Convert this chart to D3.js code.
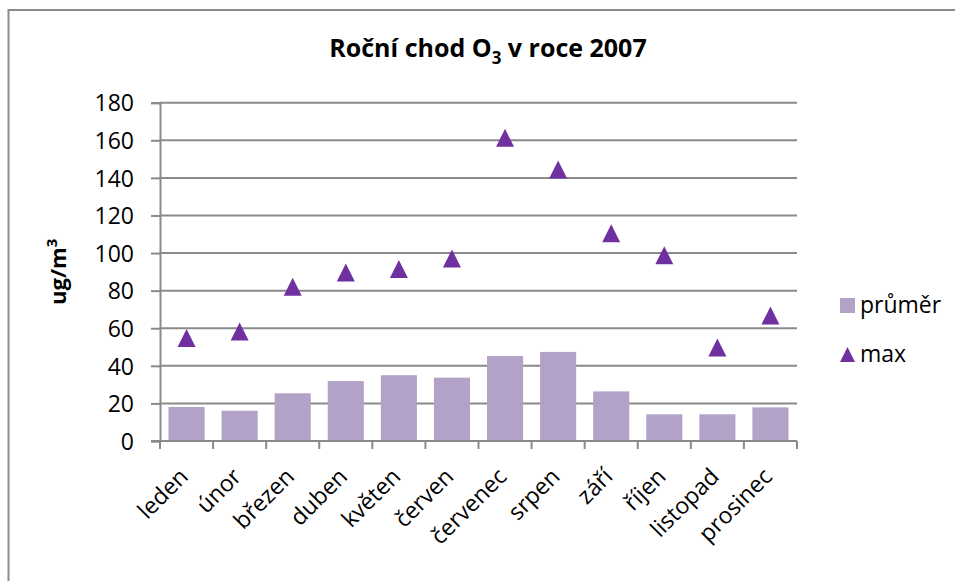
<!DOCTYPE html>
<html>
<head>
<meta charset="utf-8">
<script src="https://cdn.jsdelivr.net/npm/d3@7"></script>
<style>
  body { margin: 0; background: #fff; }
  svg text { font-family: "Open Sans", "Noto Sans", sans-serif; fill: #000; }
</style>
</head>
<body>
<div id="chart"></div>
<script>
// Roční chod O3 v roce 2007 — bars = monthly average, triangles = monthly max
const months = ["leden", "únor", "březen", "duben", "květen", "červen",
  "červenec", "srpen", "září", "říjen", "listopad", "prosinec"];
const prumer = [18.1, 16.1, 25.4, 31.9, 35.0, 33.7, 45.2, 47.4, 26.4, 14.2, 14.2, 17.9];
const maxVals = [54.8, 58.3, 82.1, 89.6, 91.5, 97.1, 161.3, 144.5, 110.6, 98.8, 49.8, 66.8];
const yTicks = [0, 20, 40, 60, 80, 100, 120, 140, 160, 180];

const W = 955, H = 581;
const plot = { left: 160, right: 797, top: 102.7, bottom: 441 };
const barColor = "#b3a2c7";
const markColor = "#7030a0";
const gridColor = "#8a8a8a";

const svg = d3.select("#chart").append("svg")
  .attr("width", W).attr("height", H);

// outer chart border (cut off on right/bottom like the screenshot)
svg.append("rect")
  .attr("x", 8.5).attr("y", 10)
  .attr("width", W + 10).attr("height", H + 10)
  .attr("fill", "none").attr("stroke", "#8c8c8c").attr("stroke-width", 2);

const y = d3.scaleLinear().domain([0, 180]).range([plot.bottom, plot.top]);
const xOuter = d3.scaleBand().domain(months).range([plot.left, plot.right]);
const gap = 0.32;
const x = d3.scaleBand().domain(months).range([plot.left, plot.right])
  .paddingInner(gap).paddingOuter(gap / 2);

// gridlines + left ticks
const yAxis = d3.axisLeft(y).tickValues(yTicks).tickSize(9).tickPadding(17);
const yAxisG = svg.append("g").attr("transform", `translate(${plot.left},0)`).call(yAxis);
yAxisG.select(".domain").attr("stroke", gridColor).attr("stroke-width", 2);
yAxisG.selectAll(".tick line").attr("stroke", gridColor).attr("stroke-width", 2);
yAxisG.selectAll(".tick text")
  .style("font-size", "23px").attr("fill", "#000").attr("dy", "0.36em");

svg.append("g").selectAll("line").data(yTicks.filter(d => d > 0)).join("line")
  .attr("x1", plot.left).attr("x2", plot.right)
  .attr("y1", d => y(d)).attr("y2", d => y(d))
  .attr("stroke", gridColor).attr("stroke-width", 2);

// bars
svg.append("g").selectAll("rect").data(months).join("rect")
  .attr("x", (d) => x(d))
  .attr("width", x.bandwidth())
  .attr("y", (d, i) => y(prumer[i]))
  .attr("height", (d, i) => y(0) - y(prumer[i]))
  .attr("fill", barColor);

// x axis line and category-boundary ticks
svg.append("line")
  .attr("x1", plot.left - 9).attr("x2", plot.right)
  .attr("y1", y(0)).attr("y2", y(0))
  .attr("stroke", gridColor).attr("stroke-width", 2);
const bounds = months.map(m => xOuter(m)).concat([plot.right]);
svg.append("g").selectAll("line").data(bounds).join("line")
  .attr("x1", d => d).attr("x2", d => d)
  .attr("y1", y(0)).attr("y2", y(0) + 8)
  .attr("stroke", gridColor).attr("stroke-width", 2);

// x labels rotated -45
svg.append("g").selectAll("text").data(months).join("text")
  .attr("transform", d => `translate(${xOuter(d) + xOuter.bandwidth() / 2 + 3},${y(0) + 37}) rotate(-45)`)
  .attr("text-anchor", "end")
  .style("font-size", "23px")
  .text(d => d);

// triangle markers
const tri = (cx, cy, w, h) => {
  const p = d3.path();
  p.moveTo(cx, cy - h / 2);
  p.lineTo(cx + w / 2, cy + h / 2);
  p.lineTo(cx - w / 2, cy + h / 2);
  p.closePath();
  return p.toString();
};
svg.append("g").selectAll("path").data(months).join("path")
  .attr("d", (d, i) => tri(xOuter(d) + xOuter.bandwidth() / 2, y(maxVals[i]), 18, 18))
  .attr("fill", markColor);

// title
const title = svg.append("text")
  .attr("x", 488).attr("y", 57)
  .attr("text-anchor", "middle")
  .style("font-size", "25px").style("font-weight", "bold");
title.append("tspan").text("Roční chod O");
title.append("tspan").attr("dy", 7).style("font-size", "17px").text("3");
title.append("tspan").attr("dy", -7).text(" v roce 2007");

// y axis title
const yt = svg.append("text")
  .attr("transform", `translate(66,${(plot.top + plot.bottom) / 2}) rotate(-90)`)
  .attr("text-anchor", "middle")
  .style("font-size", "22px").style("font-weight", "bold");
yt.append("tspan").text("ug/m");
yt.append("tspan").attr("dy", -9).style("font-size", "15px").text("3");

// legend
const legend = svg.append("g").attr("transform", "translate(840,0)");
legend.append("rect").attr("x", 0).attr("y", 298).attr("width", 15).attr("height", 15).attr("fill", barColor);
legend.append("text").attr("x", 20).attr("y", 313).style("font-size", "23px").text("průměr");
legend.append("path").attr("d", tri(7.5, 354.5, 15, 15)).attr("fill", markColor);
legend.append("text").attr("x", 20).attr("y", 362).style("font-size", "23px").text("max");
</script>
</body>
</html>
